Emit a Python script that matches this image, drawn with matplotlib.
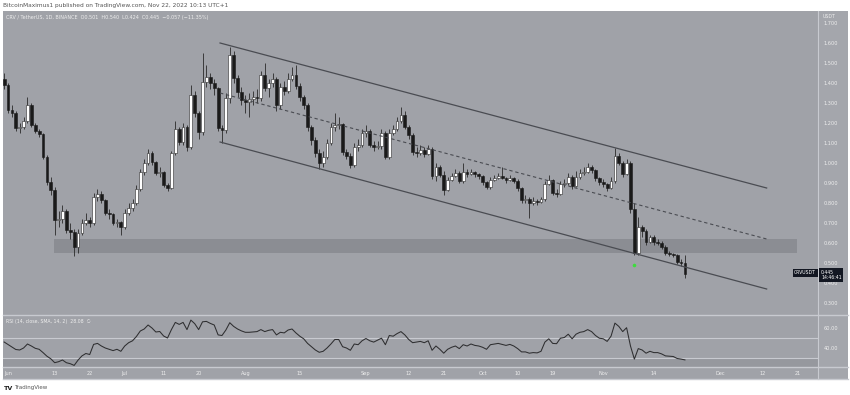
import numpy as np
import pandas as pd
import matplotlib
matplotlib.use("Agg")
import matplotlib.pyplot as plt
import matplotlib.dates as mdates
from matplotlib.patches import Rectangle

# CRV / USDT daily candles, 2022-05-31 .. 2022-11-22
first_open = 1.42
close = [
    1.39, 1.265, 1.25, 1.175, 1.18, 1.21, 1.29, 1.19, 1.16, 1.145,
    1.03, 0.905, 0.865, 0.715, 0.72, 0.76, 0.665, 0.655, 0.58, 0.65,
    0.70, 0.715, 0.70, 0.83, 0.845, 0.815, 0.75, 0.745, 0.70, 0.705,
    0.68, 0.75, 0.775, 0.80, 0.87, 0.955, 1.00, 1.05, 1.005, 0.95,
    0.955, 0.89, 0.875, 1.05, 1.17, 1.105, 1.18, 1.08, 1.34, 1.25,
    1.155, 1.405, 1.43, 1.40, 1.375, 1.175, 1.165, 1.325, 1.54, 1.425,
    1.355, 1.315, 1.305, 1.32, 1.33, 1.325, 1.44, 1.375, 1.40, 1.42,
    1.29, 1.38, 1.36, 1.42, 1.44, 1.385, 1.33, 1.29, 1.18, 1.115,
    1.05, 1.00, 1.03, 1.10, 1.18, 1.19, 1.195, 1.055, 1.035, 0.99,
    1.08, 1.09, 1.15, 1.16, 1.09, 1.08, 1.085, 1.15, 1.03, 1.15,
    1.17, 1.21, 1.24, 1.18, 1.14, 1.055, 1.05, 1.065, 1.045, 1.07,
    0.935, 0.98, 0.94, 0.865, 0.915, 0.935, 0.95, 0.91, 0.955, 0.945,
    0.955, 0.945, 0.935, 0.905, 0.88, 0.915, 0.925, 0.935, 0.925, 0.915,
    0.925, 0.91, 0.875, 0.815, 0.82, 0.80, 0.81, 0.805, 0.82, 0.895,
    0.915, 0.85, 0.845, 0.895, 0.90, 0.93, 0.885, 0.93, 0.95, 0.955,
    0.98, 0.965, 0.925, 0.905, 0.895, 0.875, 0.91, 1.035, 1.00, 0.945,
    1.00, 0.77, 0.55, 0.68, 0.66, 0.605, 0.63, 0.605, 0.60, 0.58,
    0.55, 0.545, 0.54, 0.505, 0.502, 0.445,
]
high = [
    1.45, 1.40, 1.29, 1.26, 1.20, 1.23, 1.33, 1.30, 1.20, 1.17,
    1.15, 1.04, 0.93, 0.88, 0.76, 0.79, 0.77, 0.70, 0.67, 0.67,
    0.72, 0.75, 0.73, 0.85, 0.87, 0.86, 0.82, 0.77, 0.75, 0.72,
    0.71, 0.77, 0.80, 0.82, 0.89, 0.97, 1.02, 1.07, 1.06, 1.01,
    0.98, 0.96, 0.90, 1.06, 1.21, 1.18, 1.20, 1.19, 1.39, 1.36,
    1.26, 1.55, 1.49, 1.45, 1.42, 1.38, 1.19, 1.35, 1.58, 1.56,
    1.44, 1.38, 1.34, 1.35, 1.36, 1.37, 1.46, 1.50, 1.42, 1.45,
    1.43, 1.40, 1.41, 1.45, 1.48, 1.49, 1.40, 1.34, 1.30, 1.19,
    1.13, 1.07, 1.06, 1.12, 1.20, 1.25, 1.23, 1.20, 1.07, 1.05,
    1.10, 1.12, 1.17, 1.19, 1.17, 1.11, 1.11, 1.17, 1.16, 1.17,
    1.19, 1.23, 1.28, 1.26, 1.19, 1.15, 1.08, 1.09, 1.08, 1.09,
    1.08, 1.00, 0.99, 0.96, 0.93, 0.95, 0.97, 0.96, 1.00, 0.97,
    0.97, 0.96, 0.95, 0.94, 0.91, 0.93, 0.94, 0.95, 0.98, 0.93,
    0.94, 0.93, 0.92, 0.88, 0.84, 0.83, 0.83, 0.82, 0.83, 0.91,
    0.94, 0.92, 0.87, 0.91, 0.92, 0.95, 0.94, 0.96, 0.97, 0.98,
    1.00, 0.99, 0.97, 0.93, 0.92, 0.90, 0.93, 1.075, 1.05, 1.01,
    1.02, 1.01, 0.80, 0.73, 0.69, 0.67, 0.64, 0.64, 0.62, 0.61,
    0.59, 0.56, 0.55, 0.545, 0.52, 0.54,
]
low = [
    1.37, 1.25, 1.23, 1.16, 1.15, 1.17, 1.20, 1.18, 1.15, 1.13,
    1.02, 0.89, 0.84, 0.64, 0.68, 0.70, 0.65, 0.62, 0.535, 0.55,
    0.64, 0.69, 0.68, 0.69, 0.81, 0.80, 0.74, 0.72, 0.69, 0.68,
    0.64, 0.67, 0.74, 0.76, 0.79, 0.86, 0.94, 0.99, 0.99, 0.94,
    0.93, 0.88, 0.86, 0.87, 1.04, 1.09, 1.09, 1.06, 1.07, 1.23,
    1.12, 1.14, 1.38, 1.37, 1.34, 1.16, 1.10, 1.15, 1.30, 1.40,
    1.33, 1.29, 1.25, 1.23, 1.29, 1.30, 1.31, 1.36, 1.33, 1.38,
    1.26, 1.27, 1.34, 1.35, 1.41, 1.37, 1.31, 1.27, 1.16, 1.09,
    1.03, 0.97, 0.98, 1.02, 1.09, 1.16, 1.17, 1.04, 1.02, 0.975,
    0.98, 1.06, 1.08, 1.13, 1.08, 1.06, 1.07, 1.07, 1.02, 1.02,
    1.14, 1.16, 1.20, 1.17, 1.12, 1.04, 1.03, 1.04, 1.03, 1.04,
    0.92, 0.91, 0.93, 0.84, 0.86, 0.91, 0.93, 0.90, 0.90, 0.93,
    0.94, 0.93, 0.92, 0.89, 0.87, 0.87, 0.91, 0.92, 0.92, 0.90,
    0.91, 0.90, 0.86, 0.80, 0.80, 0.725, 0.79, 0.79, 0.80, 0.81,
    0.89, 0.84, 0.83, 0.84, 0.88, 0.89, 0.87, 0.88, 0.92, 0.94,
    0.95, 0.95, 0.91, 0.89, 0.88, 0.86, 0.87, 0.90, 0.99, 0.93,
    0.94, 0.75, 0.54, 0.54, 0.63, 0.59, 0.60, 0.59, 0.59, 0.57,
    0.54, 0.535, 0.53, 0.495, 0.485, 0.424,
]
rsi = [
    46, 43.5, 41, 38.5, 38, 40, 44, 42, 39.7, 38.7,
    35.4, 31.8, 29.2, 25.3, 26.3, 28, 25.3, 24.3, 22.6, 27.9,
    32.1, 34.5, 33.5, 43.6, 44.6, 42, 40, 38.7, 37.4, 38.7,
    36.7, 42, 45.3, 47.2, 51.5, 57, 59, 63, 60, 56,
    56.5, 52, 50, 58.4, 65.6, 63.6, 65.6, 58.4, 67.9, 64.3,
    58.4, 66.2, 66.6, 64.6, 63, 53.1, 52.5, 58, 65.3, 61.6,
    59, 57.1, 55.7, 55.7, 56.1, 56.4, 58.4, 56.4, 57.7, 58.4,
    53.1, 55.7, 55.1, 58, 59, 55.1, 51.8, 49.2, 44.6, 41.3,
    38, 35.7, 36.7, 40, 44, 48.5, 48.5, 41.3, 40, 37.7,
    44, 43.3, 47.2, 49.5, 47.2, 45.9, 47.9, 49.8, 43.3, 52.5,
    51.8, 54.4, 56.4, 53.1, 48.5, 45.3, 45.9, 46.6, 45.3, 47.2,
    37.7, 42, 38.7, 34.8, 38.7, 40.7, 42, 39.4, 43.3, 42,
    44, 42.6, 42, 40.7, 38.7, 43.3, 44, 44.6, 43.6, 42.6,
    43.6, 42, 39.4, 36.1, 36.1, 34.8, 35.4, 35.1, 36.7, 45.9,
    49.2, 44.6, 44.3, 49.8, 50.5, 53.8, 49.2, 53.8, 55.7, 56.4,
    58.4, 56.4, 52.5, 49.8, 49.2, 46.6, 51.8, 64.9, 61.6, 56.4,
    60.3, 42, 28.9, 39.4, 38, 34.8, 36.7, 35.4, 35.4, 34.1,
    32.1, 31.8, 31.5, 29.5, 28.9, 28.08,
]
dates = pd.date_range("2022-05-31", periods=len(close), freq="D")

# drawings: channel (start/end date + price), support zone, marker
chan_dates = ["2022-07-25 12:00", "2022-12-13 00:00"]
chan_upper = [1.60, 0.875]
chan_mid = [1.35, 0.62]
chan_lower = [1.105, 0.37]
zone_dates = ["2022-06-12 20:00", "2022-12-20 20:00"]
zone_prices = [0.55, 0.62]
dot_date, dot_price = "2022-11-09", 0.49

tick_dates = ["2022-06-01", "2022-06-13", "2022-06-22", "2022-07-01", "2022-07-11",
              "2022-07-20", "2022-08-01", "2022-08-15", "2022-09-01", "2022-09-12",
              "2022-09-21", "2022-10-01", "2022-10-10", "2022-10-19", "2022-11-01",
              "2022-11-14", "2022-12-01", "2022-12-12", "2022-12-21"]
tick_labels = ["Jun", "13", "22", "Jul", "11", "20", "Aug", "15", "Sep", "12", "21",
               "Oct", "10", "19", "Nov", "14", "Dec", "12", "21"]
price_ticks = [0.3, 0.4, 0.5, 0.6, 0.7, 0.8, 0.9, 1.0, 1.1, 1.2, 1.3, 1.4, 1.5, 1.6, 1.7]

W, H = 850, 395
BG = "#a0a2a8"
LINE = "#c8cad0"
TXT = "#eeeeee"

def fx(px):
    return px / W

def fy(py):
    return 1 - py / H

def dnum(s):
    return mdates.date2num(pd.to_datetime(s, format="mixed"))

fig = plt.figure(figsize=(W / 100, H / 100), dpi=100)
fig.patch.set_facecolor("white")
fig.patches.append(Rectangle((fx(3), fy(379)), fx(848) - fx(3), (379 - 11) / H,
                             transform=fig.transFigure, facecolor=BG, edgecolor="none", zorder=-2))
fig.patches.append(Rectangle((fx(818), fy(379)), fx(848) - fx(818), (379 - 11) / H,
                             transform=fig.transFigure, facecolor="#a4a6ac", edgecolor="none", zorder=-1))

ax = fig.add_axes([fx(3), fy(314), fx(818) - fx(3), (314 - 11) / H])
ax2 = fig.add_axes([fx(3), fy(367), fx(818) - fx(3), (367 - 316) / H])

x = mdates.date2num(dates)
opn = np.array([first_open] + close[:-1])
cls = np.array(close)
up = cls >= opn
x0 = mdates.date2num(pd.Timestamp("2022-06-01"))
xlim = (x0 - 1.29, x0 + 208.2)

for a in (ax, ax2):
    a.set_facecolor("none")
    a.set_xlim(*xlim)
    for s in a.spines.values():
        s.set_visible(False)

# support zone
zx = dnum(zone_dates)
ax.add_patch(Rectangle((zx[0], zone_prices[0]), zx[1] - zx[0], zone_prices[1] - zone_prices[0],
                       facecolor="#8b8d93", edgecolor="none", zorder=1))

# candles
ax.vlines(x, low, high, color="#2a2a2a", lw=0.6, zorder=2)
body = np.maximum(np.abs(cls - opn), 0.004)
bottom = np.minimum(cls, opn)
ax.bar(x[up], body[up], bottom=bottom[up], width=0.72, color="white",
       edgecolor="#2a2a2a", linewidth=0.4, zorder=3)
ax.bar(x[~up], body[~up], bottom=bottom[~up], width=0.72, color="#1a1a1a",
       edgecolor="#1a1a1a", linewidth=0.4, zorder=3)

# channel
cx = dnum(chan_dates)
ax.plot(cx, chan_upper, color="#4a4c52", lw=0.9, zorder=4)
ax.plot(cx, chan_lower, color="#4a4c52", lw=0.9, zorder=4)
ax.plot(cx, chan_mid, color="#4a4c52", lw=0.8, ls=(0, (3, 2.5)), zorder=4)
ax.plot(dnum(dot_date), dot_price, "o", ms=2.6, color="#3ddc3d", mec="none", zorder=5)

ax.set_ylim(0.245, 1.76)
ax.set_yticks(price_ticks)
ax.set_yticklabels([f"{p:.3f}" for p in price_ticks])
ax.set_xticks([])
ax.tick_params(axis="y", left=False, labelleft=False, right=True, labelright=True,
               length=0, pad=4, labelsize=3.6, labelcolor=TXT)

# RSI panel
ax2.set_ylim(21, 72)
ax2.axhspan(21, 30, color="#96989e", lw=0, zorder=0)
ax2.axhline(50, color=LINE, lw=0.8, zorder=1)
ax2.axhline(30, color=LINE, lw=0.8, zorder=1)
ax2.plot(x, rsi, color="#2e2e30", lw=0.75, zorder=3)
ax2.set_yticks([40, 60])
ax2.set_yticklabels(["40.00", "60.00"])
ax2.tick_params(axis="y", left=False, labelleft=False, right=True, labelright=True,
                length=0, pad=4, labelsize=3.6, labelcolor=TXT)
ax2.set_xticks(dnum(tick_dates))
ax2.set_xticklabels(tick_labels)
ax2.tick_params(axis="x", length=0, pad=3, labelsize=3.6, labelcolor=TXT)

# separators
for py in (315, 367, 379):
    fig.add_artist(plt.Line2D([fx(3), fx(848)], [fy(py), fy(py)], color=LINE, lw=1.0,
                              transform=fig.transFigure))
fig.add_artist(plt.Line2D([fx(818), fx(818)], [fy(11), fy(379)], color=LINE, lw=0.8,
                          transform=fig.transFigure))

# texts
fig.text(fx(3), fy(5), "BitcoinMaximus1 published on TradingView.com, Nov 22, 2022 10:13 UTC+1",
         fontsize=4.2, color="#555555", ha="left", va="center")
fig.text(fx(6), fy(17), "CRV / TetherUS, 1D, BINANCE  O0.501  H0.540  L0.424  C0.445  \u22120.057 (\u221211.35%)",
         fontsize=3.5, color=TXT, ha="left", va="center")
fig.text(fx(6), fy(321), "RSI (14, close, SMA, 14, 2)  28.08  \u2205",
         fontsize=3.3, color=TXT, ha="left", va="center")
fig.text(fx(823), fy(16), "USDT", fontsize=3.4, color=TXT, ha="left", va="center")
fig.text(fx(816), fy(273), "CRVUSDT", fontsize=3.3, color="white", ha="right", va="center",
         bbox=dict(facecolor="#131722", edgecolor="none", boxstyle="square,pad=0.35"))
fig.text(fx(821), fy(275), "0.445\n14:46:41", fontsize=3.3, color="white", ha="left", va="center",
         linespacing=1.2, bbox=dict(facecolor="#131722", edgecolor="none", boxstyle="square,pad=0.35"))
fig.text(fx(4), fy(388), "TV", fontsize=4.6, color="#222222", weight="bold", ha="left", va="center")
fig.text(fx(14), fy(388), "TradingView", fontsize=4.0, color="#555555", ha="left", va="center")

fig.savefig("out.png", dpi=100, facecolor="white")
